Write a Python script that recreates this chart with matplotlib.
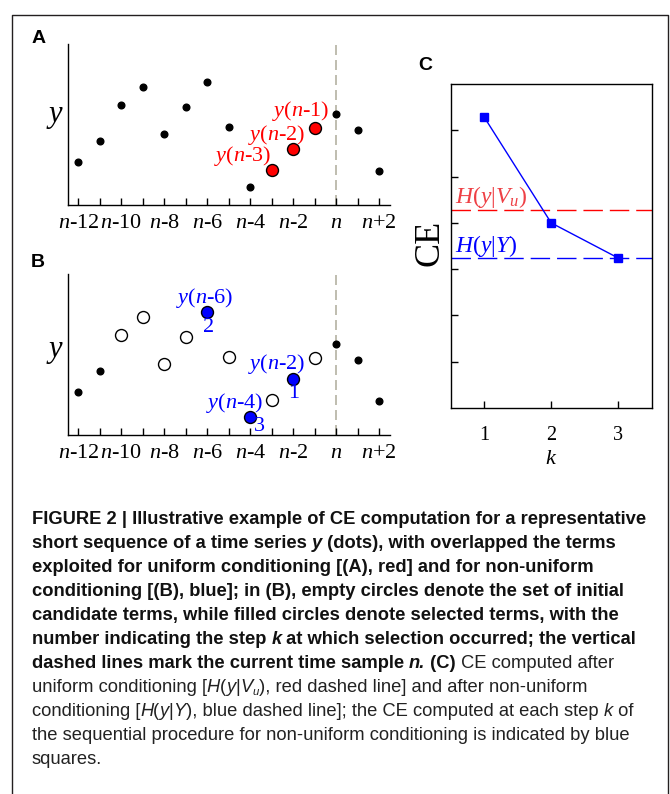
import matplotlib
matplotlib.use("Agg")
import matplotlib.pyplot as plt
from matplotlib import font_manager
from matplotlib.font_manager import FontProperties
from matplotlib.lines import Line2D

plt.rcParams['mathtext.fontset'] = 'custom'
plt.rcParams['mathtext.rm'] = 'Liberation Serif'
plt.rcParams['mathtext.it'] = 'Liberation Serif:italic'
plt.rcParams['mathtext.bf'] = 'Liberation Serif:bold'

W, H = 670, 794
SERIF = 'Liberation Serif'

# ---- data ----
lags = [-12, -11, -10, -9, -8, -7, -6, -5, -4, -3, -2, -1, 0, 1, 2]
y_series = [42.7, 64.3, 99.7, 118.0, 71.3, 98.0, 123.3, 78.3, 17.7, 35.3, 55.7, 76.7, 91.0, 75.0, 34.0]

uniform_lags = [-1, -2, -3]
uniform_names = ['$y$($n$-1)', '$y$($n$-2)', '$y$($n$-3)']

candidate_lags = [-10, -9, -8, -7, -6, -5, -4, -3, -2, -1]
selected_lags = [-2, -6, -4]          # selected at step k = 1, 2, 3
selected_names = ['$y$($n$-2)', '$y$($n$-6)', '$y$($n$-4)']
selected_steps = ['1', '2', '3']

k_steps = [1, 2, 3]
ce_steps = [6.29, 4.00, 3.24]
ce_uniform = 4.29
ce_nonuniform = 3.25


def tick_text(lag):
    if lag == 0:
        return '$n$'
    return '$n$%+d' % lag if lag > 0 else '$n$-%d' % -lag


def fx(px):
    return px / W


def fy(py):
    return 1 - py / H


fig = plt.figure(figsize=(W / 100, H / 100), dpi=100)
fig.patch.set_facecolor('white')

# --- outer frame (open at the bottom) ---
fig.add_artist(Line2D([fx(12.5), fx(12.5), fx(668), fx(668)],
                      [0, fy(15), fy(15), 0],
                      transform=fig.transFigure, color='#231f20', lw=1.0))


def series_axes(rect):
    ax = fig.add_axes(rect)
    ax.set_xlim(-12.48, 2.5)
    ax.set_ylim(0, 161)
    ax.spines[['top', 'right']].set_visible(False)
    ax.spines[['left', 'bottom']].set_linewidth(1.0)
    ax.set_yticks([])
    ax.set_xticks(lags)
    ax.set_xticklabels([tick_text(l) if l % 2 == 0 else '' for l in lags],
                       family=SERIF, fontsize=16)
    ax.tick_params(axis='x', direction='in', length=5, width=1, pad=6.5)
    ax.axvline(0, color='#b4b1a2', lw=1.2, dashes=(6, 3), zorder=1)
    ax.patch.set_alpha(0)
    return ax


def yval(lag):
    return y_series[lags.index(lag)]


# ===== panel A =====
ax_a = series_axes([fx(68), fy(205), fx(390) - fx(68), 161 / H])
plain = [l for l in lags if l not in uniform_lags]
ax_a.plot(plain, [yval(l) for l in plain], 'o', ms=4.8, color='k', zorder=3)
ax_a.plot(uniform_lags, [yval(l) for l in uniform_lags], 'o', ms=8.6,
          mfc='#ff0000', mec='k', mew=1.0, zorder=3)
a_offsets = [(-14, 17), (-16.6, 14), (-29, 14)]
for lag, name, off in zip(uniform_lags, uniform_names, a_offsets):
    ax_a.annotate(name, (lag, yval(lag)), xytext=off, textcoords='offset pixels',
                  ha='center', va='center', color='#ff0000', fontsize=16, family=SERIF)

# ===== panel B =====
ax_b = series_axes([fx(68), fy(435), fx(390) - fx(68), 161 / H])
plain = [l for l in lags if l not in candidate_lags]
empty = [l for l in candidate_lags if l not in selected_lags]
ax_b.plot(plain, [yval(l) for l in plain], 'o', ms=4.8, color='k', zorder=3)
ax_b.plot(empty, [yval(l) for l in empty], 'o', ms=8.6,
          mfc='white', mec='k', mew=1.0, zorder=3)
ax_b.plot(selected_lags, [yval(l) for l in selected_lags], 'o', ms=8.6,
          mfc='#0000ff', mec='k', mew=1.0, zorder=3)
name_offsets = [(-16.6, 15.3), (-2.6, 14), (-15.6, 14.5)]
step_offsets = [(0.4, -14), (1, -15.4), (9.2, -9.4)]
for lag, name, step, no, so in zip(selected_lags, selected_names, selected_steps,
                                  name_offsets, step_offsets):
    ax_b.annotate(name, (lag, yval(lag)), xytext=no, textcoords='offset pixels',
                  ha='center', va='center', color='#0000ff', fontsize=16, family=SERIF)
    ax_b.annotate(step, (lag, yval(lag)), xytext=so, textcoords='offset pixels',
                  ha='center', va='center', color='#0000ff', fontsize=16, family=SERIF)

for py in (116.5, 352):
    fig.text(fx(55), fy(py), '$y$', fontsize=22, ha='center', va='center')

# ===== panel C =====
ax_c = fig.add_axes([fx(450.7), fy(407.7), fx(651.7) - fx(450.7), 323.4 / H])
ax_c.set_xlim(0.5, 3.5)
ax_c.set_ylim(0, 7)
for s in ax_c.spines.values():
    s.set_linewidth(1.0)
ax_c.set_xticks(k_steps)
ax_c.set_xticklabels([str(k) for k in k_steps], family=SERIF, fontsize=14.5)
ax_c.set_yticks(range(1, 7))
ax_c.set_yticklabels([])
ax_c.tick_params(direction='in', length=5, width=1)
ax_c.tick_params(axis='x', pad=13)
ax_c.axhline(ce_uniform, color='#ff0000', lw=1.0, dashes=(14, 5), zorder=2)
ax_c.axhline(ce_nonuniform, color='#0000ff', lw=1.0, dashes=(14, 5), zorder=2)
ax_c.plot(k_steps, ce_steps, '-s', color='#0000ff', lw=1.0, ms=6, zorder=3)
ax_c.text(0.565, ce_uniform + 0.13, '$H(y|V_u)$', color='#ee4045', fontsize=17,
          ha='left', va='baseline')
ax_c.text(0.565, ce_nonuniform + 0.11, '$H(y|Y)$', color='#0000ff', fontsize=17,
          ha='left', va='baseline')
fig.text(fx(430), fy(243), 'CE', rotation=90, family=SERIF, fontsize=26,
         ha='center', va='center')
fig.text(fx(550.7), fy(458), '$k$', fontsize=16, ha='center', va='center')

# panel letters
for letter, px, py in (('A', 32, 43), ('B', 31, 267), ('C', 418, 70)):
    fig.text(fx(px), fy(py), letter, family='Liberation Sans', fontweight='bold',
             fontsize=14, ha='left', va='baseline')

# ===== caption =====
names = {f.name for f in font_manager.fontManager.ttflist}
CAP_FAMILY = 'Liberation Sans Narrow' if 'Liberation Sans Narrow' in names else 'Liberation Sans'
STYLES = {
    'b': dict(fontweight='bold', fontstyle='normal', color='#111111'),
    'bi': dict(fontweight='bold', fontstyle='italic', color='#111111'),
    'r': dict(fontweight='normal', fontstyle='normal', color='#222222'),
    'i': dict(fontweight='normal', fontstyle='italic', color='#222222'),
    'sub': dict(fontweight='normal', fontstyle='italic', color='#222222'),
}
caption = [
    [('FIGURE 2 | Illustrative example of CE computation for a representative', 'b')],
    [('short sequence of a time series ', 'b'), ('y', 'bi'), (' (dots), with overlapped the terms', 'b')],
    [('exploited for uniform conditioning [(A), red] and for non-uniform', 'b')],
    [('conditioning [(B), blue]; in (B), empty circles denote the set of initial', 'b')],
    [('candidate terms, while filled circles denote selected terms, with the', 'b')],
    [('number indicating the step ', 'b'), ('k', 'bi'), (' at which selection occurred; the vertical', 'b')],
    [('dashed lines mark the current time sample ', 'b'), ('n.', 'bi'), (' (C)', 'b'),
     (' CE computed after', 'r')],
    [('uniform conditioning [', 'r'), ('H', 'i'), ('(', 'r'), ('y', 'i'), ('|', 'r'),
     ('V', 'i'), ('u', 'sub'), ('), red dashed line] and after non-uniform', 'r')],
    [('conditioning [', 'r'), ('H', 'i'), ('(', 'r'), ('y', 'i'), ('|', 'r'), ('Y', 'i'),
     ('), blue dashed line]; the CE computed at each step ', 'r'), ('k', 'i'), (' of', 'r')],
    [('the sequential procedure for non-uniform conditioning is indicated by blue', 'r')],
    [('squares.', 'r')],
]

renderer = fig.canvas.get_renderer()


def advance(txt, size, style):
    # width including trailing/leading spaces, measured between two bars
    st = STYLES[style]
    prop = FontProperties(family=CAP_FAMILY, size=size, weight=st['fontweight'],
                          style=st['fontstyle'])
    w1 = renderer.get_text_width_height_descent('|' + txt + '|', prop, ismath=False)[0]
    w0 = renderer.get_text_width_height_descent('||', prop, ismath=False)[0]
    return w1 - w0


base_size = 14.0
first_w = sum(advance(t, base_size, s) for t, s in caption[0])
cap_size = base_size * 618 / first_w

for i, line in enumerate(caption):
    x = 31.7
    base = 524 + 24 * i
    for txt, style in line:
        size = cap_size * (0.62 if style == 'sub' else 1.0)
        dy = 3 if style == 'sub' else 0
        st = STYLES[style]
        fig.text(fx(x), fy(base + dy), txt, family=CAP_FAMILY, fontsize=size,
                 ha='left', va='baseline', **st)
        x += advance(txt, size, style)

fig.savefig('out.png', dpi=100, facecolor='white')
